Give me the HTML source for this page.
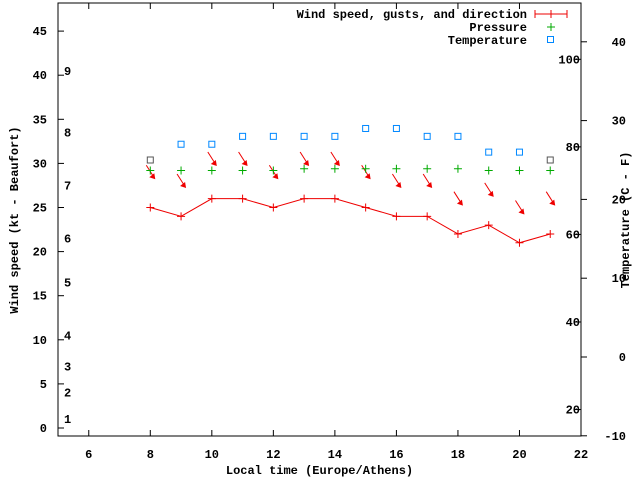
<!DOCTYPE html>
<html><head><meta charset="utf-8"><style>
body{margin:0;background:#fff}
svg{display:block;font-family:"Liberation Mono","DejaVu Sans Mono",monospace;font-size:12px;font-weight:bold}
</style></head><body>
<svg id="chart" width="640" height="480" viewBox="0 0 640 480" xmlns="http://www.w3.org/2000/svg">
<rect x="0" y="0" width="640" height="480" fill="#fff"/>
<g id="axes"></g>
<g id="series"></g>
<g id="legend">
<text x="527" y="18" text-anchor="end">Wind speed, gusts, and direction</text>
<line x1="535" y1="14" x2="567" y2="14" stroke="#e00"/>
<line x1="535" y1="10" x2="535" y2="18" stroke="#e00"/><line x1="567" y1="10" x2="567" y2="18" stroke="#e00"/><line x1="551" y1="10" x2="551" y2="18" stroke="#e00"/>
<text x="527" y="31" text-anchor="end">Pressure</text>
<path d="M547,27h8M551,23v8" stroke="#0a0"/>
<text x="527" y="44" text-anchor="end">Temperature</text>
<rect x="547.5" y="36.5" width="6" height="6" fill="none" stroke="#08f"/>
</g>
</svg>
<script>
const hours=[8,9,10,11,12,13,14,15,16,17,18,19,20,21];
const windKt=[25,24,26,26,25,26,26,25,24,24,22,23,21,22];
const gustKt=[29,28,30.5,30.5,29,30.5,30.5,29,28,28,26,27,25,26];
const pressurePlot=[29.2,29.2,29.2,29.2,29.2,29.4,29.4,29.4,29.4,29.4,29.4,29.2,29.2,29.2];
const tempC=[25,27,27,28,28,28,28,29,29,28,28,26,26,25];
const xTicks=[6,8,10,12,14,16,18,20,22];
const yTicks=[0,5,10,15,20,25,30,35,40,45];
const tTicks=[-10,0,10,20,30,40];
const bftLabels=[1,2,3,4,5,6,7,8,9];
const bftY=[1.0,4.0,7.0,10.5,16.5,21.5,27.5,33.5,40.5];
const fLabels=[20,40,60,80,100];
const L=58,R=581,T=3,B=436;
const X=v=>L+(v-5)/(22-5)*(R-L);
const Y=v=>428-v*8.82;
const TY=v=>357-v*7.88;
const FY=f=>TY((f-32)*5/9);
const NS="http://www.w3.org/2000/svg";
function mk(tag,attrs,parent){const e=document.createElementNS(NS,tag);for(const k in attrs)e.setAttribute(k,attrs[k]);parent.appendChild(e);return e;}
const ax=document.getElementById('axes'),sr=document.getElementById('series');
const frame=mk('rect',{x:L,y:T,width:R-L,height:B-T,fill:'none',stroke:'#000'},ax);


xTicks.forEach(v=>{
 mk('line',{x1:X(v),y1:B,x2:X(v),y2:B-6,stroke:'#000'},ax);
 mk('line',{x1:X(v),y1:T,x2:X(v),y2:T+6,stroke:'#000'},ax);
 const t=mk('text',{x:X(v),y:B+22,'text-anchor':'middle'},ax);t.textContent=v;
 
 
});
yTicks.forEach(v=>{
 mk('line',{x1:L,y1:Y(v),x2:L+6,y2:Y(v),stroke:'#000'},ax);
 const t=mk('text',{x:L-11,y:Y(v)+4,'text-anchor':'end'},ax);t.textContent=v;
 
 
});
tTicks.forEach(v=>{
 mk('line',{x1:R,y1:TY(v),x2:R+6,y2:TY(v),stroke:'#000'},ax);
 const t=mk('text',{x:R+45,y:TY(v)+4,'text-anchor':'end'},ax);t.textContent=v;
 
 
});
bftLabels.forEach((b,i)=>{
 const t=mk('text',{x:64,y:Y(bftY[i])+4},ax);t.textContent=b;
 
 
});
fLabels.forEach(f=>{
 mk('line',{x1:R,y1:FY(f),x2:R-6,y2:FY(f),stroke:'#000'},ax);
 const t=mk('text',{x:R-1,y:FY(f)+4,'text-anchor':'end'},ax);t.textContent=f;
 
 
});
let t=mk('text',{x:X(13.5),y:474,'text-anchor':'middle'},ax);t.textContent='Local time (Europe/Athens)';


t=mk('text',{x:18,y:220,'text-anchor':'middle',transform:'rotate(-90 18 220)'},ax);t.textContent='Wind speed (kt - Beaufort)';


t=mk('text',{x:629,y:220,'text-anchor':'middle',transform:'rotate(-90 629 220)'},ax);t.textContent='Temperature (C - F)';


// wind line
const wl=mk('polyline',{points:hours.map((h,i)=>X(h)+','+Y(windKt[i])).join(' '),fill:'none',stroke:'#e00'},sr);


hours.forEach((h,i)=>{
 const x=X(h),y=Y(windKt[i]);
 const p=mk('path',{d:`M${x-4},${y}h8M${x},${y-4}v8`,stroke:'#e00'},sr);
 
 
 const gy=Y(gustKt[i]);
 const a=mk('g',{},sr);
 
 
 mk('line',{x1:x-4,y1:gy-7,x2:x+3,y2:gy+4,stroke:'#e00'},a);
 mk('polygon',{points:`${x+5},${gy+7} ${x-1},${gy+5} ${x+4},${gy+1}`,fill:'#e00'},a);
 const py=Y(pressurePlot[i]);
 const g=mk('path',{d:`M${x-4},${py}h8M${x},${py-4}v8`,stroke:'#0a0'},sr);
 
 
 const ty=TY(tempC[i]);
 const s=mk('rect',{x:x-3,y:ty-3,width:6,height:6,fill:'none',stroke:(i==0||i==hours.length-1)?'#555':'#08f'},sr);
 
 
});
</script>
</body></html>
